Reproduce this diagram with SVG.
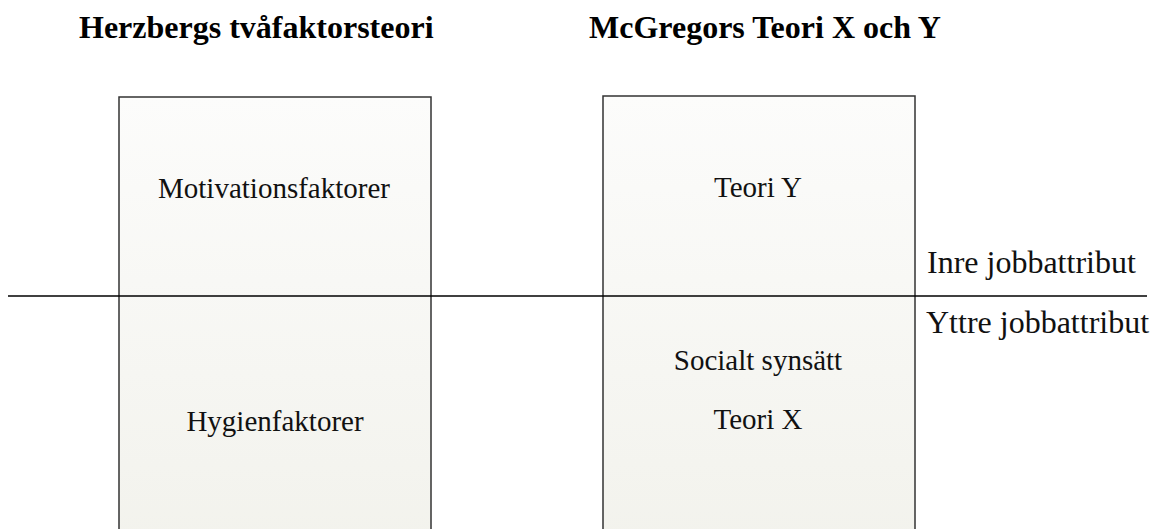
<svg xmlns="http://www.w3.org/2000/svg" width="1152" height="529" viewBox="0 0 1152 529">
<defs>
<linearGradient id="g" x1="0" y1="0" x2="0" y2="1">
<stop offset="0" stop-color="#fcfcfb"/>
<stop offset="1" stop-color="#f2f2ec"/>
</linearGradient>
<style>
.box{fill:url(#g);stroke:#333;stroke-width:1.5}
.t{font-family:"Liberation Serif",serif;font-size:29px;fill:#111}
.side{font-family:"Liberation Serif",serif;font-size:32px;fill:#111}
.h{font-family:"Liberation Serif",serif;font-size:32px;font-weight:bold;fill:#000}
.line{stroke:#000;stroke-width:1.3}
</style>
</defs>
<rect width="1152" height="529" fill="#fff"/>
<text class="h" x="79" y="38">Herzbergs tvåfaktorsteori</text>
<text class="h" x="589" y="38">McGregors Teori X och Y</text>
<g id="herzberg">
<rect class="box" x="119" y="97" width="312" height="460"/>
<text class="t" x="274" y="198" text-anchor="middle">Motivationsfaktorer</text>
<text class="t" x="275" y="431" text-anchor="middle">Hygienfaktorer</text>
</g>
<g id="mcgregor">
<rect class="box" x="603" y="96" width="312" height="460"/>
<text class="t" x="758" y="197" text-anchor="middle">Teori Y</text>
<text class="t" x="758" y="370" text-anchor="middle">Socialt synsätt</text>
<text class="t" x="758" y="429" text-anchor="middle">Teori X</text>
</g>
<g id="connectors">
<line class="line" x1="8" y1="296" x2="1147" y2="296"/>
</g>
<text class="side" x="927" y="273">Inre jobbattribut</text>
<text class="side" x="926" y="333">Yttre jobbattribut</text>
</svg>
